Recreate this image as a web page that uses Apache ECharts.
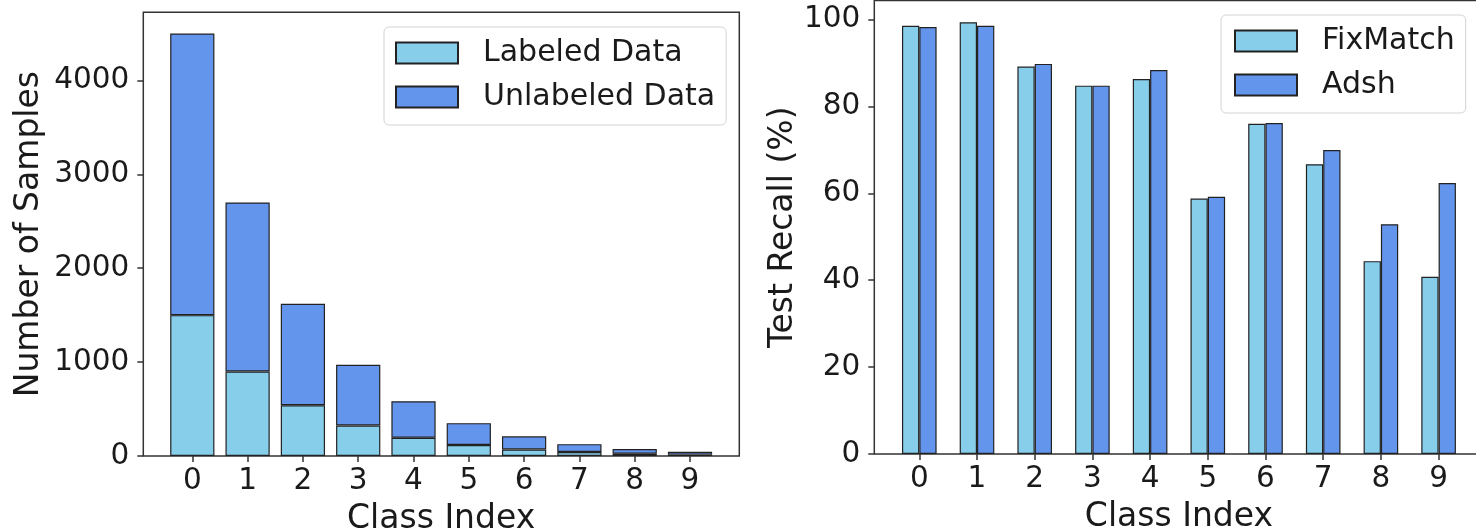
<!DOCTYPE html>
<html>
<head>
<meta charset="utf-8">
<script src="https://cdn.jsdelivr.net/npm/echarts@6/dist/echarts.min.js"></script>
<style>
  html, body { margin: 0; padding: 0; background: #fff; }
  #chart { width: 1476px; height: 531px; }
</style>
</head>
<body>
<div id="chart"></div>
<script>
// Class indices shared by both panels
const classIndex = ['0', '1', '2', '3', '4', '5', '6', '7', '8', '9'];

// Left panel: per-class sample counts (stacked)
const labeledCounts = [1500, 900, 540, 324, 194, 117, 70, 42, 25, 15];
const unlabeledCounts = [3000, 1800, 1080, 648, 389, 233, 140, 84, 50, 30];
const countTicks = [0, 1000, 2000, 3000, 4000];

// Right panel: per-class test recall (%)
const fixMatchRecall = [98.6, 99.4, 89.2, 84.8, 86.3, 58.8, 76.0, 66.7, 44.4, 40.8];
const adshRecall = [98.3, 98.6, 89.8, 84.8, 88.4, 59.2, 76.2, 70.0, 52.9, 62.4];
const recallTicks = [0, 20, 40, 60, 80, 100];

const LIGHT = '#87CEEB';
const DARK = '#6495ED';
const EDGE = '#222';
const SPINE = '#333';
const FONT = 'DejaVu Sans';
const TXT = '#1a1a1a';

function xAxisFor(gridIndex) {
  return {
    type: 'category', gridIndex, data: classIndex, boundaryGap: true,
    name: 'Class Index', nameLocation: 'middle', nameGap: 47,
    nameTextStyle: { fontFamily: FONT, fontSize: 33, color: TXT },
    axisLine: { show: false },
    axisTick: { show: true, alignWithLabel: true, length: 6, lineStyle: { color: SPINE, width: 1.5 } },
    axisLabel: { margin: 10, fontFamily: FONT, fontSize: 29.5, color: TXT },
    splitLine: { show: false }
  };
}

function yAxisFor(gridIndex, max, ticks, name, gap, offset) {
  return {
    type: 'value', gridIndex, min: 0, max, offset,
    name, nameLocation: 'middle', nameGap: gap,
    nameTextStyle: { fontFamily: FONT, fontSize: 33, color: TXT },
    axisLine: { show: false },
    axisTick: { show: true, length: 6, customValues: ticks, lineStyle: { color: SPINE, width: 1.5 } },
    axisLabel: { customValues: ticks, margin: 14, fontFamily: FONT, fontSize: 29.5, color: TXT,
                 formatter: (v) => String(v) },
    splitLine: { show: false }
  };
}

const legendCommon = {
  orient: 'vertical',
  icon: 'rect',
  itemWidth: 62, itemHeight: 21, itemGap: 14,
  backgroundColor: 'rgba(255,255,255,0.85)',
  borderColor: '#d4d4d4', borderWidth: 1, borderRadius: 5,
  textStyle: { fontFamily: FONT, fontSize: 30, color: TXT, padding: [0, 0, 0, 20] },
  selectedMode: false
};

const barStyle = (color) => ({ color, borderColor: EDGE, borderWidth: 1.2 });

// Data areas hold the category bands; the framed grids draw the full axes box
const gridBase = { outerBoundsMode: 'none', containLabel: false };
const option = {
  animation: false,
  backgroundColor: '#fff',
  grid: [
    Object.assign({ left: 164.65, top: 12.3, width: 553, height: 443.7 }, gridBase),
    Object.assign({ left: 890.45, top: 0.5, width: 577, height: 453.5 }, gridBase),
    Object.assign({ left: 143.3, top: 12.3, width: 596, height: 443.7, show: true,
      borderColor: SPINE, borderWidth: 1.5, backgroundColor: 'transparent' }, gridBase),
    Object.assign({ left: 874.3, top: 0.5, width: 609, height: 453.5, show: true,
      borderColor: SPINE, borderWidth: 1.5, backgroundColor: 'transparent' }, gridBase)
  ],
  xAxis: [xAxisFor(0), xAxisFor(1)],
  yAxis: [
    yAxisFor(0, 4725, countTicks, 'Number of Samples', 97, 21.35),
    yAxisFor(1, 104.4, recallTicks, 'Test Recall (%)', 73, 16.15)
  ],
  legend: [
    Object.assign({}, legendCommon, {
      data: ['Labeled Data', 'Unlabeled Data'],
      left: 384, top: 27, padding: [11, 11, 13, 11]
    }),
    Object.assign({}, legendCommon, {
      data: ['FixMatch', 'Adsh'],
      left: 1221, top: 15, padding: [11, 11, 13, 13]
    })
  ],
  series: [
    { name: 'Labeled Data', type: 'bar', xAxisIndex: 0, yAxisIndex: 0, stack: 'n',
      barWidth: '80%', data: labeledCounts, itemStyle: barStyle(LIGHT) },
    { name: 'Unlabeled Data', type: 'bar', xAxisIndex: 0, yAxisIndex: 0, stack: 'n',
      barWidth: '80%', data: unlabeledCounts, itemStyle: barStyle(DARK) },
    { name: 'FixMatch', type: 'bar', xAxisIndex: 1, yAxisIndex: 1,
      barWidth: '30%', barGap: '0%', data: fixMatchRecall, itemStyle: barStyle(LIGHT) },
    { name: 'Adsh', type: 'bar', xAxisIndex: 1, yAxisIndex: 1,
      barWidth: '30%', barGap: '0%', data: adshRecall, itemStyle: barStyle(DARK) }
  ]
};

const chart = echarts.init(document.getElementById('chart'), null, { renderer: 'canvas' });
chart.setOption(option);
</script>
</body>
</html>
